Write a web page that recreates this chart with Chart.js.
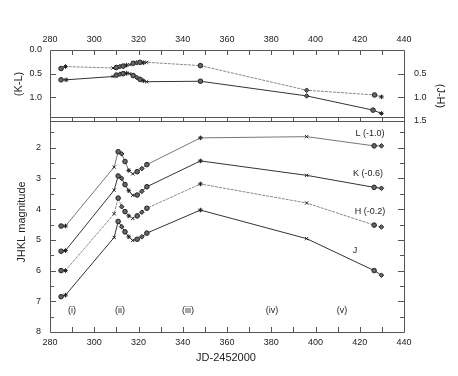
<!DOCTYPE html>
<html><head><meta charset="utf-8">
<script src="https://cdn.jsdelivr.net/npm/chart.js@4.4.1/dist/chart.umd.min.js"></script>
<style>
html,body{margin:0;padding:0;background:#fff;width:458px;height:376px;overflow:hidden}
canvas{position:absolute;left:0}
#c1{top:0}
#c2{top:112px}
</style></head><body>
<canvas id="c1" width="458" height="126"></canvas>
<canvas id="c2" width="458" height="264"></canvas>
<script>
// ---- data: top panel (colours) ----
const jdKL = [285, 287, 308.5, 310, 311.6, 313.1, 314.6, 316.1, 317.6, 319.2, 320.7, 322.2, 323.7, 348, 396, 426.7, 429.8];
const valKL = [0.39, 0.35, 0.38, 0.37, 0.35, 0.34, 0.32, 0.31, 0.28, 0.27, 0.26, 0.27, 0.26, 0.33, 0.85, 0.95, 0.99];
const jdJH = [285, 287.3, 308.5, 310, 311.6, 313.1, 314.6, 316.1, 317.6, 319.2, 320.7, 322.2, 323.7, 348, 396, 426, 429.8];
const valJH = [0.63, 0.63, 0.56, 0.53, 0.51, 0.50, 0.49, 0.50, 0.54, 0.58, 0.62, 0.65, 0.67, 0.66, 0.97, 1.27, 1.34];
// ---- data: bottom panel (magnitudes, offset) ----
const jdMag = [285, 287, 309, 310.8, 312.4, 313.9, 315.6, 317.4, 319.4, 321.5, 323.8, 348, 396, 426.5, 429.8];
const magL = [4.55, 4.55, 2.63, 2.13, 2.20, 2.45, 2.74, 2.85, 2.78, 2.68, 2.55, 1.68, 1.64, 1.94, 1.94];
const magK = [5.37, 5.35, 3.38, 2.92, 3.00, 3.20, 3.40, 3.55, 3.54, 3.42, 3.27, 2.43, 2.90, 3.29, 3.32];
const magH = [6.00, 6.00, 4.15, 3.64, 3.92, 4.08, 4.22, 4.30, 4.22, 4.10, 3.97, 3.18, 3.80, 4.52, 4.58];
const magJ = [6.85, 6.80, 4.92, 4.40, 4.57, 4.74, 4.90, 5.02, 4.98, 4.90, 4.78, 4.03, 4.96, 6.00, 6.15];
// ---- tick labels / annotations ----
const xTickLabels = [280, 300, 320, 340, 360, 380, 400, 420, 440];
const colourTicks = [0.0, 0.5, 1.0, 1.5];
const magTicks = [1, 2, 3, 4, 5, 6, 7, 8];
const bandLabels = ['L (-1.0)', 'K (-0.6)', 'H (-0.2)', 'J'];
const bandLabelX = [424.6, 423.7, 424.6, 417.9];
const bandLabelY = [1.53, 2.85, 4.07, 5.36];
const phaseLabels = ['(i)', '(ii)', '(iii)', '(iv)', '(v)'];
const phaseX = [289.9, 311.6, 342.4, 380.3, 412.0];
const phaseY = 7.3;

const FONT = '"Liberation Sans", Arial, sans-serif';
const TXT = '#222';
const FRAME = '#555';
const styles = ['circle', 'star', 'crossRot', 'circle', 'rectRot'];

function pts(xs, ys) { return xs.map((x, i) => ({x: x, y: ys[i]})); }
function ds(xs, ys, col, yAxis, dash) {
  return {
    data: pts(xs, ys), yAxisID: yAxis, showLine: true,
    borderColor: col, borderWidth: 1, borderDash: dash || [],
    pointStyle: (c) => styles[c.dataIndex % styles.length],
    pointRadius: 2.3, pointBorderColor: '#222', pointBackgroundColor: '#666', pointBorderWidth: 1
  };
}

function tickLines(ctx, scale, vals, len, side, a) {
  ctx.beginPath();
  vals.forEach(v => {
    const p = Math.round(scale.getPixelForValue(v)) + 0.5;
    if (side === 'bottom') { ctx.moveTo(p, a.bottom); ctx.lineTo(p, a.bottom - len); }
    if (side === 'top') { ctx.moveTo(p, a.top); ctx.lineTo(p, a.top + len); }
    if (side === 'left') { ctx.moveTo(a.left, p); ctx.lineTo(a.left + len, p); }
    if (side === 'right') { ctx.moveTo(a.right, p); ctx.lineTo(a.right - len, p); }
  });
  ctx.stroke();
}
const xMinor = [];
for (let v = 290; v < 440; v += 10) xMinor.push(v);

function frameAndTicks(chart, yVals, yMinor, topTicks, bottomTicks) {
  const ctx = chart.ctx, a = chart.chartArea;
  ctx.save();
  ctx.setLineDash([]);
  ctx.globalAlpha = 1;
  ctx.strokeStyle = FRAME; ctx.lineWidth = 1;
  ctx.beginPath();
  ctx.rect(Math.round(a.left) + 0.5, Math.round(a.top) + 0.5, Math.round(a.right - a.left), Math.round(a.bottom - a.top));
  ctx.stroke();
  const xs = chart.scales.x, ys = chart.scales.y;
  if (topTicks) tickLines(ctx, xs, xMinor, 5, 'top', a);
  if (bottomTicks) tickLines(ctx, xs, xMinor, 5, 'bottom', a);
  tickLines(ctx, ys, yVals, 6, 'left', a);
  tickLines(ctx, ys, yVals, 6, 'right', a);
  tickLines(ctx, ys, yMinor, 4, 'left', a);
  tickLines(ctx, ys, yMinor, 4, 'right', a);
  ctx.restore();
}

function rotText(ctx, txt, x, y, ang, size) {
  ctx.save();
  ctx.translate(x, y); ctx.rotate(ang);
  ctx.font = size + 'px ' + FONT; ctx.fillStyle = TXT;
  ctx.textAlign = 'center'; ctx.textBaseline = 'middle';
  ctx.fillText(txt, 0, 0);
  ctx.restore();
}

const tickFont = {family: FONT, size: 9};
const noGrid = {display: false, drawTicks: false};
const noBorder = {display: false};
function zeroPad(s) { s.paddingLeft = 0; s.paddingRight = 0; s.paddingTop = 0; s.paddingBottom = 0; }

// ---------- top panel ----------
new Chart(document.getElementById('c1'), {
  type: 'scatter',
  data: {datasets: [ds(jdKL, valKL, '#8a8a8a', 'y', [3, 1]), ds(jdJH, valJH, '#333', 'y2')]},
  options: {
    responsive: false, animation: false, devicePixelRatio: 1,
    layout: {padding: {left: 0, right: 0, top: 0, bottom: 1}},
    plugins: {legend: {display: false}, tooltip: {enabled: false}},
    scales: {
      x: {type: 'linear', position: 'top', min: 280, max: 440,
          afterBuildTicks: s => { s.ticks = xTickLabels.map(v => ({value: v})); },
          ticks: {font: tickFont, color: TXT, padding: 5, maxRotation: 0},
          grid: noGrid, border: noBorder, afterFit: s => { s.height = 50; zeroPad(s); }},
      y: {type: 'linear', position: 'left', reverse: true, min: 0, max: 1.5,
          afterBuildTicks: s => { s.ticks = colourTicks.map(v => ({value: v})); },
          ticks: {font: tickFont, color: TXT, padding: 8, callback: v => v >= 1.5 ? '' : v.toFixed(1)},
          grid: noGrid, border: noBorder, afterFit: s => { s.width = 50; zeroPad(s); }},
      y2: {type: 'linear', position: 'right', reverse: true, min: 0, max: 1.5,
          afterBuildTicks: s => { s.ticks = colourTicks.map(v => ({value: v})); },
          ticks: {font: tickFont, color: TXT, padding: 10, callback: v => v <= 0 ? '' : v.toFixed(1)},
          grid: noGrid, border: noBorder, afterFit: s => { s.width = 54; zeroPad(s); }}
    }
  },
  plugins: [{
    id: 'decor1',
    afterDraw(chart) {
      frameAndTicks(chart, [0.5, 1.0], [], true, false);
      rotText(chart.ctx, '(K-L)', 19, 84, -Math.PI / 2, 11);
      rotText(chart.ctx, '(J-H)', 440, 96, Math.PI / 2, 11);
    }
  }]
});

// ---------- bottom panel ----------
new Chart(document.getElementById('c2'), {
  type: 'scatter',
  data: {datasets: [
    ds(jdMag, magL, '#777', 'y'),
    ds(jdMag, magK, '#333', 'y'),
    ds(jdMag, magH, '#888', 'y', [3, 1]),
    ds(jdMag, magJ, '#333', 'y')
  ]},
  options: {
    responsive: false, animation: false, devicePixelRatio: 1,
    layout: {padding: {left: 0, right: 54, top: 1, bottom: 0}},
    plugins: {legend: {display: false}, tooltip: {enabled: false}},
    scales: {
      x: {type: 'linear', position: 'bottom', min: 280, max: 440,
          afterBuildTicks: s => { s.ticks = xTickLabels.map(v => ({value: v})); },
          ticks: {font: tickFont, color: TXT, padding: 5, maxRotation: 0},
          grid: noGrid, border: noBorder, afterFit: s => { s.height = 44; zeroPad(s); }},
      y: {type: 'linear', position: 'left', reverse: true, min: 1, max: 8,
          afterBuildTicks: s => { s.ticks = magTicks.map(v => ({value: v})); },
          ticks: {font: tickFont, color: TXT, padding: 9, callback: v => v <= 1 ? '' : String(v)},
          grid: noGrid, border: noBorder, afterFit: s => { s.width = 50; zeroPad(s); }}
    }
  },
  plugins: [{
    id: 'decor2',
    afterDraw(chart) {
      const ctx = chart.ctx, xs = chart.scales.x, ys = chart.scales.y;
      const minor = [1.5, 2.5, 3.5, 4.5, 5.5, 6.5, 7.5];
      frameAndTicks(chart, [2, 3, 4, 5, 6, 7], minor, true, true);
      ctx.save();
      ctx.font = '9px ' + FONT; ctx.fillStyle = TXT;
      ctx.textAlign = 'center'; ctx.textBaseline = 'middle';
      bandLabels.forEach((t, i) => ctx.fillText(t, xs.getPixelForValue(bandLabelX[i]), ys.getPixelForValue(bandLabelY[i])));
      phaseLabels.forEach((t, i) => ctx.fillText(t, xs.getPixelForValue(phaseX[i]), ys.getPixelForValue(phaseY)));
      ctx.restore();
      rotText(ctx, 'JHKL magnitude', 22, 110, -Math.PI / 2, 11);
      rotText(ctx, 'JD-2452000', 226, 246, 0, 11);
    }
  }]
});
</script>
</body></html>
